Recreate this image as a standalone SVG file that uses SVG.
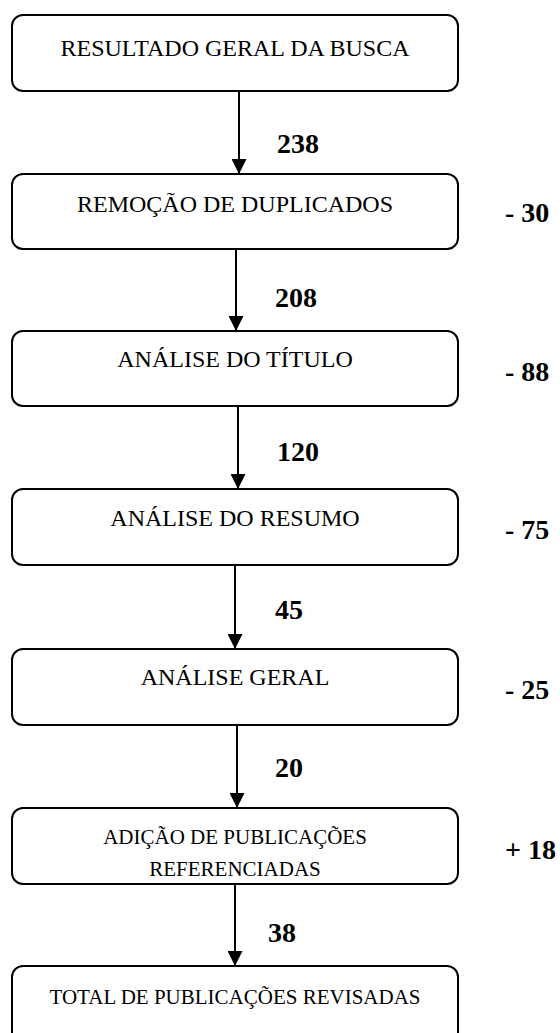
<svg xmlns="http://www.w3.org/2000/svg" width="560" height="1033" viewBox="0 0 560 1033">
<style>
.box{fill:#fff;stroke:#000;stroke-width:2}
.t{font-family:"Liberation Serif","Times New Roman",serif;font-size:24px;text-anchor:middle;fill:#000}
.ts{font-size:21px}
.n{font-family:"Liberation Serif","Times New Roman",serif;font-size:28px;font-weight:bold;fill:#000}
.c{stroke:#000;stroke-width:2;fill:none}
</style>
<defs>
<marker id="ah" markerWidth="15" markerHeight="15" refX="15" refY="7.5" orient="auto" markerUnits="userSpaceOnUse">
<path d="M0,0 L15,7.5 L0,15 Z" fill="#000"/>
</marker>
</defs>
<rect width="560" height="1033" fill="#fff"/>
<g id="connectors">
<line class="c" x1="239" y1="91" x2="239" y2="174" marker-end="url(#ah)"/>
<line class="c" x1="236" y1="249" x2="236" y2="331" marker-end="url(#ah)"/>
<line class="c" x1="238" y1="406" x2="238" y2="489" marker-end="url(#ah)"/>
<line class="c" x1="235" y1="565" x2="235" y2="649" marker-end="url(#ah)"/>
<line class="c" x1="237" y1="725" x2="237" y2="808" marker-end="url(#ah)"/>
<line class="c" x1="235" y1="884" x2="235" y2="966" marker-end="url(#ah)"/>
</g>
<g id="n1"><rect class="box" x="12" y="15" width="446" height="76" rx="11"/><text class="t" x="235" y="56">RESULTADO GERAL DA BUSCA</text></g>
<g id="n2"><rect class="box" x="12" y="174" width="446" height="75" rx="11"/><text class="t" x="235" y="212">REMOÇÃO DE DUPLICADOS</text></g>
<g id="n3"><rect class="box" x="12" y="331" width="446" height="75" rx="11"/><text class="t" x="235" y="367">ANÁLISE DO TÍTULO</text></g>
<g id="n4"><rect class="box" x="12" y="489" width="446" height="76" rx="11"/><text class="t" x="235" y="526">ANÁLISE DO RESUMO</text></g>
<g id="n5"><rect class="box" x="12" y="649" width="446" height="76" rx="11"/><text class="t" x="235" y="685">ANÁLISE GERAL</text></g>
<g id="n6"><rect class="box" x="12" y="808" width="446" height="76" rx="11"/><text class="t ts" x="235" y="844">ADIÇÃO DE PUBLICAÇÕES</text><text class="t ts" x="235" y="876">REFERENCIADAS</text></g>
<g id="n7"><rect class="box" x="12" y="966" width="446" height="80" rx="11"/><text class="t ts" x="235" y="1004">TOTAL DE PUBLICAÇÕES REVISADAS</text></g>
<g id="flow-labels">
<text class="n" x="277" y="153">238</text>
<text class="n" x="275" y="307">208</text>
<text class="n" x="277" y="461">120</text>
<text class="n" x="275" y="619">45</text>
<text class="n" x="275" y="777">20</text>
<text class="n" x="268" y="942">38</text>
</g>
<g id="change-labels">
<text class="n" x="505" y="222">- 30</text>
<text class="n" x="505" y="381">- 88</text>
<text class="n" x="505" y="539">- 75</text>
<text class="n" x="505" y="699">- 25</text>
<text class="n" x="505" y="859">+ 18</text>
</g>
</svg>
